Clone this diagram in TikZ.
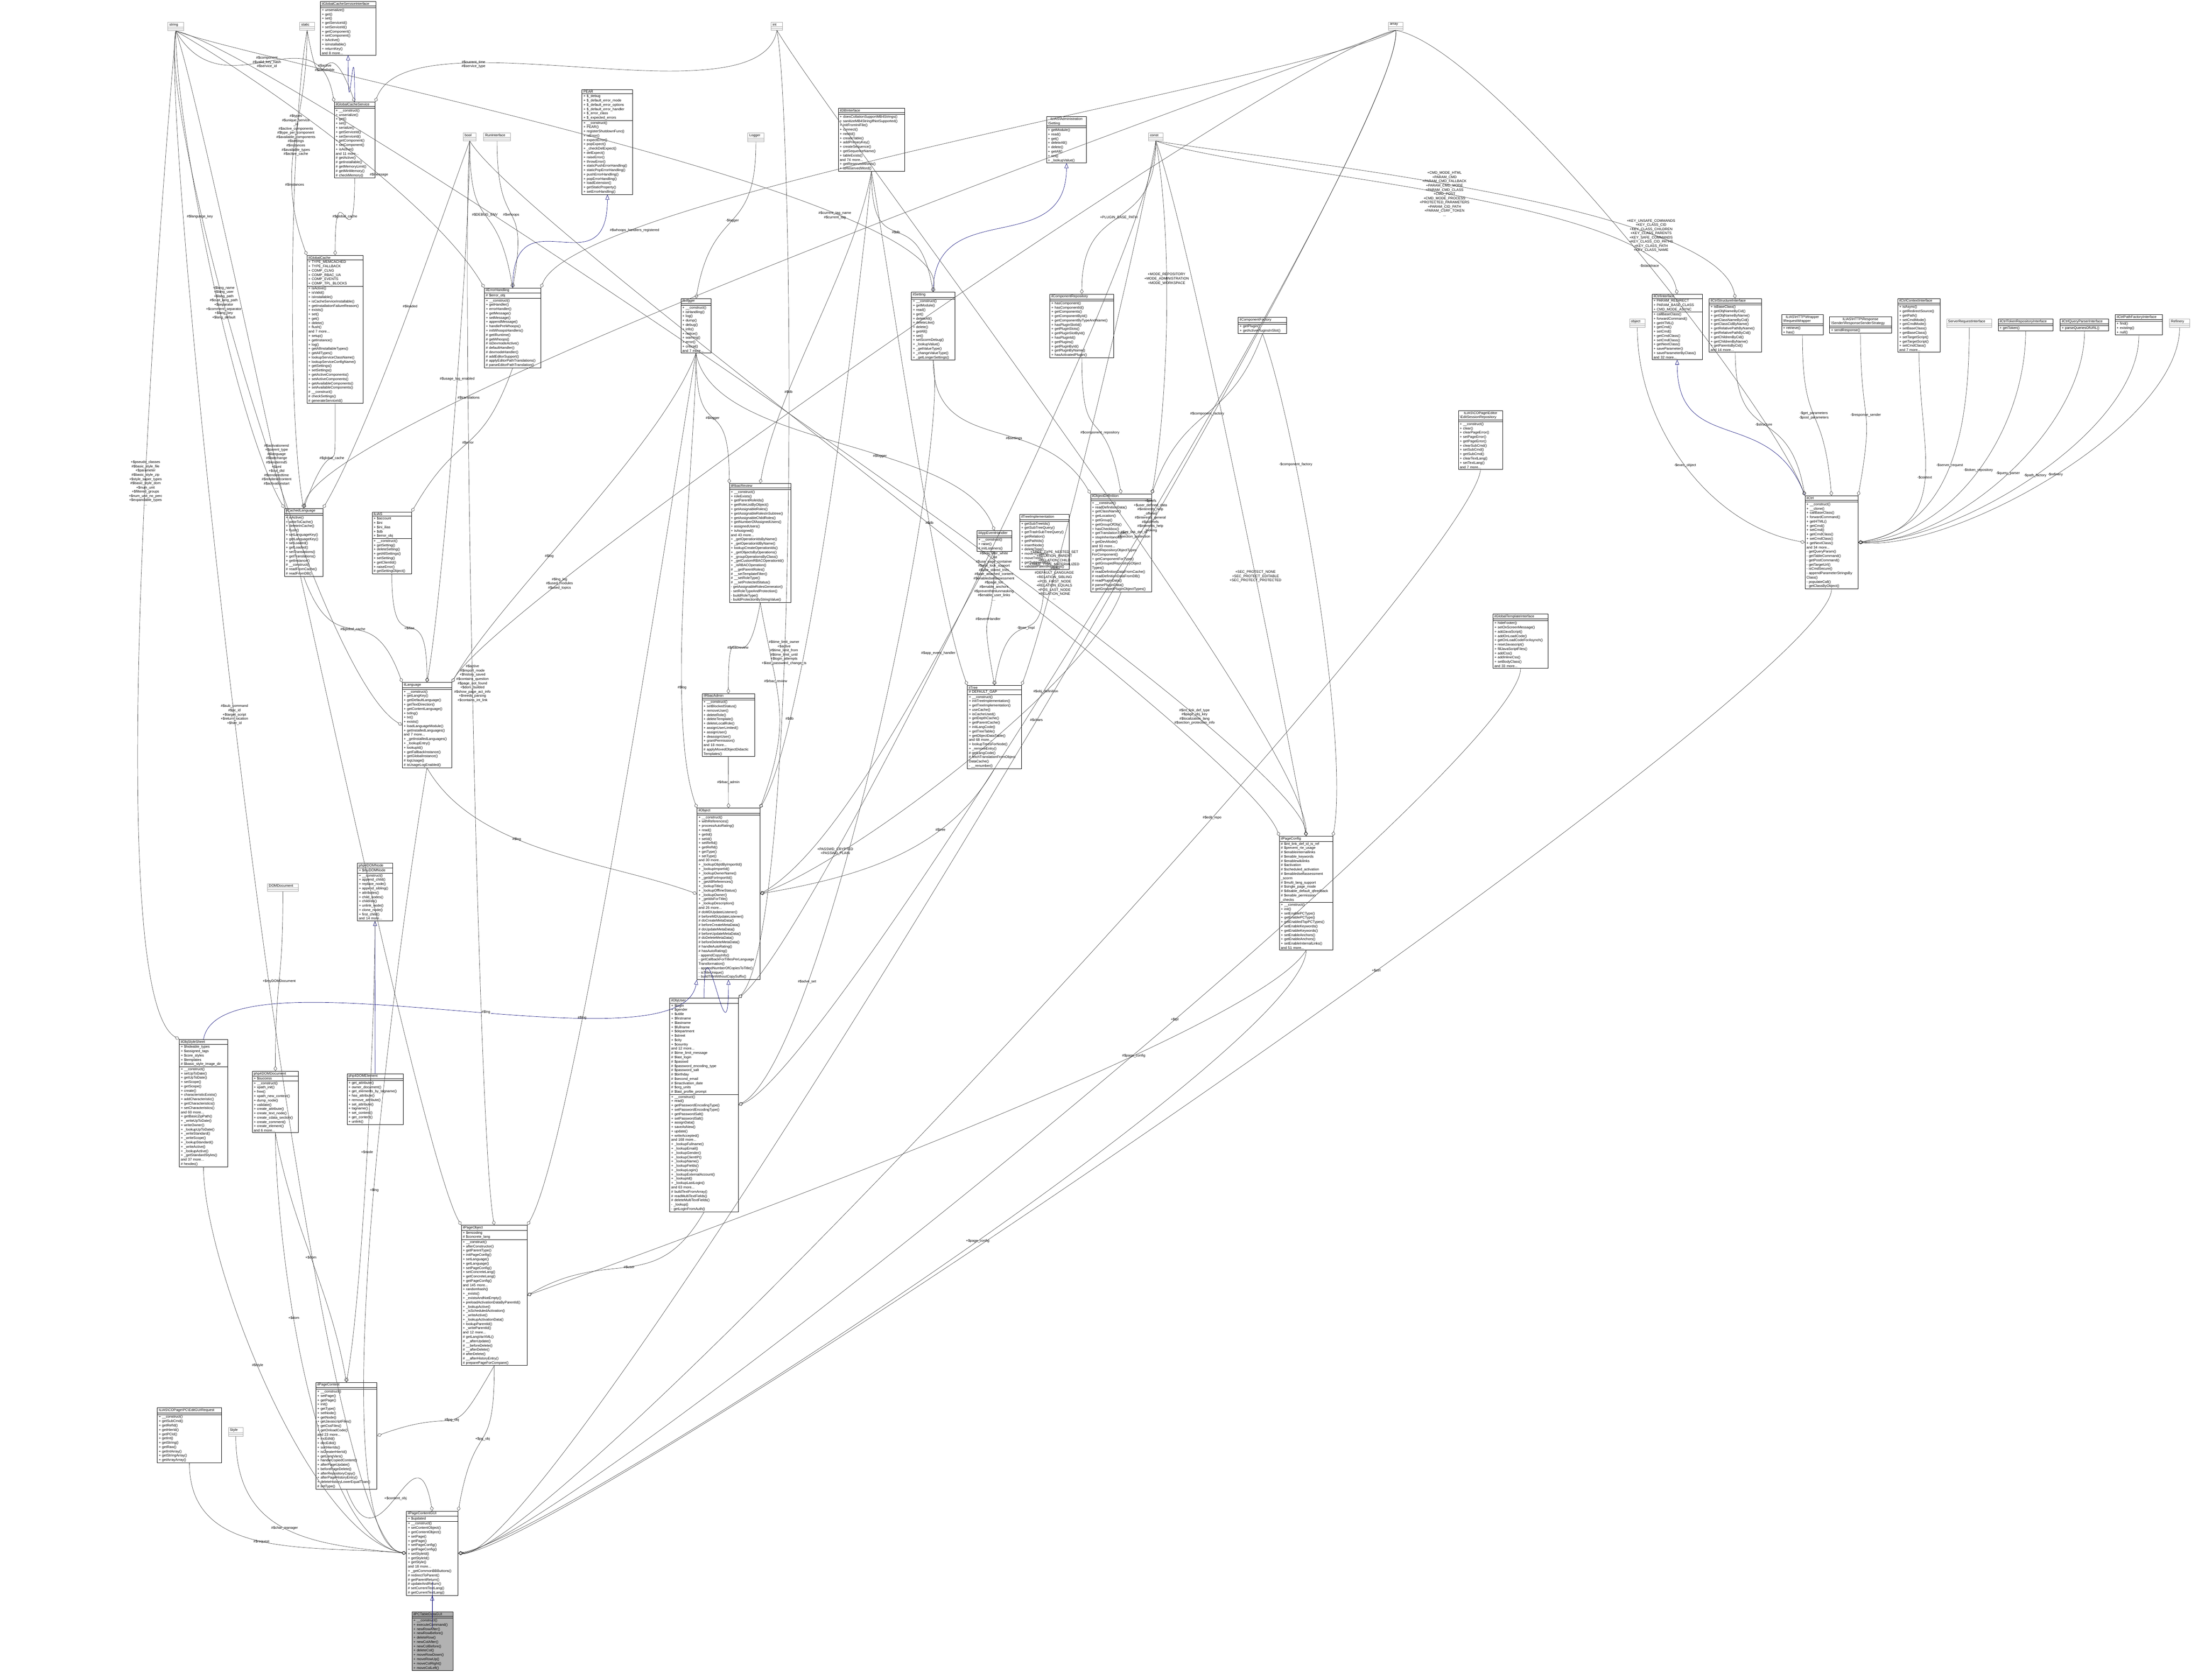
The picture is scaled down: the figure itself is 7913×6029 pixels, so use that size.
\documentclass[tikz,border=0pt]{standalone}
\usepackage{fontspec}
\setmainfont{Liberation Sans}
\usetikzlibrary{shapes.multipart,arrows.meta}
\newcommand\cls[8][cbox]{\pgfmathsetmacro\clw{#5*0.28453-3}\node[#1,text width=\clw pt] (#2) at (#3,#4) {\centering #6\nodepart{two}#7\nodepart{three}#8};}
\tikzset{
 cv/.style 2 args={to path={.. controls ([shift={(-#1:350)}]\tikztostart) and ([shift={(-#2:350)}]\tikztotarget) .. (\tikztotarget) \tikztonodes}},
 cbox/.style={rectangle split,rectangle split parts=3,draw=black,line width=0.4pt,anchor=north west,align=left,
   inner xsep=1.5pt,inner ysep=0.7pt,font=\fontsize{3.6}{4.4}\selectfont,rectangle split empty part height=3pt,fill=white},
 gbox/.style={cbox,draw=black!35},
 hbox/.style={cbox,fill=black!30},
 agg/.style={draw=black!75,line width=0.3pt,-{Diamond[open,length=5pt,width=3.5pt]}},
 inh/.style={draw=blue!45!black,line width=0.3pt,-{Triangle[open,length=5pt,width=4pt]}},
 lbl/.style={font=\fontsize{3.6}{4.3}\selectfont,align=center,inner sep=0.5pt}
}
\begin{document}
\begin{tikzpicture}[x=0.01cm,y=-0.01cm]
\useasboundingbox[fill=white] (0,0) rectangle (7913,6029);
% ---------- plain boxes
\cls[gbox]{string}{602}{79}{56}{string}{}{}
\cls[gbox]{static}{1075}{79}{53}{static}{}{}
\cls[gbox]{int}{2767}{79}{41}{int}{}{}
\cls[gbox]{array}{4982}{79}{52}{array}{}{}
\cls[gbox]{bool}{1662}{476}{46}{bool}{}{}
\cls[gbox]{runif}{1735}{476}{96}{RunInterface}{}{}
\cls[gbox]{logger}{2683}{477}{58}{Logger}{}{}
\cls[gbox]{const}{4121}{477}{52}{const}{}{}
\cls[gbox]{object}{5847}{1144}{56}{object}{}{}
\cls[gbox]{srvreq}{6985}{1144}{162}{ServerRequestInterface}{}{}
\cls[gbox]{refinery}{7785}{1144}{72}{Refinery}{}{}
\cls[gbox]{domdoc}{959}{3171}{111}{DOMDocument}{}{}
\cls[gbox]{style}{819}{5123}{53}{Style}{}{}
% ---------- classes
\cls{gcsi}{1149}{5}{199}{ilGlobalCacheServiceInterface}{}{+ unserialize()\\+ get()\\+ set()\\+ getServiceId()\\+ setServiceId()\\+ getComponent()\\+ setComponent()\\+ isActive()\\+ isInstallable()\\+ returnKey()\\and 8 more...}
\cls{gcs}{1199}{366}{146}{ilGlobalCacheService}{}{+ \_\_construct()\\+ unserialize()\\+ get()\\+ set()\\+ serialize()\\+ getServiceId()\\+ setServiceId()\\+ getComponent()\\+ setComponent()\\+ isActive()\\and 11 more...\\\# getActive()\\\# getInstallable()\\\# getMemoryLimit()\\\# getMinMemory()\\\# checkMemory()}
\cls{pear}{2088}{321}{182}{PEAR}{+ \$\_debug\\+ \$\_default\_error\_mode\\+ \$\_default\_error\_options\\+ \$\_default\_error\_handler\\+ \$\_error\_class\\+ \$\_expected\_errors}{+ \_\_construct()\\+ PEAR()\\+ registerShutdownFunc()\\+ isError()\\+ expectError()\\+ popExpect()\\+ \_checkDelExpect()\\+ delExpect()\\+ raiseError()\\+ throwError()\\+ staticPushErrorHandling()\\+ staticPopErrorHandling()\\+ pushErrorHandling()\\+ popErrorHandling()\\+ loadExtension()\\+ getStaticProperty()\\+ setErrorHandling()}
\cls{gc}{1101}{916}{202}{ilGlobalCache}{+ TYPE\_MEMCACHED\\+ TYPE\_FALLBACK\\+ COMP\_CLNG\\+ COMP\_RBAC\_UA\\+ COMP\_EVENTS\\+ COMP\_TPL\_BLOCKS}{+ isActive()\\+ isValid()\\+ isInstallable()\\+ isCacheServiceInstallable()\\+ getInstallationFailureReason()\\+ exists()\\+ set()\\+ get()\\+ delete()\\+ flush()\\and 7 more...\\+ setup()\\+ getInstance()\\+ log()\\+ getAllInstallableTypes()\\+ getAllTypes()\\+ lookupServiceClassName()\\+ lookupServiceConfigName()\\+ getSettings()\\+ setSettings()\\+ getActiveComponents()\\+ setActiveComponents()\\+ getAvailableComponents()\\+ setAvailableComponents()\\\# \_\_construct()\\\# checkSettings()\\\# generateServiceId()}
\cls{erh}{1738}{1033}{202}{ilErrorHandling}{\# \$error\_obj}{+ \_\_construct()\\+ getHandler()\\+ errorHandler()\\+ getMessage()\\+ setMessage()\\+ appendMessage()\\+ handlePreWhoops()\\+ initWhoopsHandlers()\\\# getIRuntime()\\\# getWhoops()\\\# isDevmodeActive()\\\# defaultHandler()\\\# devmodeHandler()\\\# addEditorSupport()\\\# applyEditorPathTranslations()\\\# parseEditorPathTranslation()}
\cls{illog}{2443}{1071}{108}{ilLogger}{}{+ \_\_construct()\\+ isHandling()\\+ log()\\+ dump()\\+ debug()\\+ info()\\+ notice()\\+ warning()\\+ error()\\+ critical()\\and 7 more...}
\cls{db}{3008}{388}{237}{ilDBInterface}{}{+ doesCollationSupportMB4Strings()\\+ sanitizeMB4StringIfNotSupported()\\+ initFromIniFile()\\+ connect()\\+ nextId()\\+ createTable()\\+ addPrimaryKey()\\+ createSequence()\\+ getSequenceName()\\+ tableExists()\\and 74 more...\\+ getReservedWords()\\+ isReservedWord()}
\cls{admset}{3755}{418}{143}{ILIAS\textbackslash Administration\\\textbackslash Setting}{}{+ getModule()\\+ read()\\+ get()\\+ deleteAll()\\+ delete()\\+ getAll()\\+ set()\\+ \_lookupValue()}
\cls{setting}{3270}{1048}{156}{ilSetting}{}{+ \_\_construct()\\+ getModule()\\+ read()\\+ get()\\+ deleteAll()\\+ deleteLike()\\+ delete()\\+ getAll()\\+ set()\\+ setScormDebug()\\+ \_lookupValue()\\+ \_getValueType()\\+ \_changeValueType()\\+ \_getLongerSettings()}
\cls{comprepo}{3767}{1055}{229}{ilComponentRepository}{}{+ hasComponent()\\+ hasComponentId()\\+ getComponents()\\+ getComponentById()\\+ getComponentByTypeAndName()\\+ hasPluginSlotId()\\+ getPluginSlots()\\+ getPluginSlotById()\\+ hasPluginId()\\+ getPlugins()\\+ getPluginById()\\+ getPluginByName()\\+ hasActivatedPlugin()}
\cls{compfac}{4443}{1138}{174}{ilComponentFactory}{}{+ getPlugin()\\+ getActivePluginsInSlot()}
\cls{ctrlif}{5928}{1055}{180}{ilCtrlInterface}{+ PARAM\_REDIRECT\\+ PARAM\_BASE\_CLASS\\+ CMD\_MODE\_ASYNC}{+ callBaseClass()\\+ forwardCommand()\\+ getHTML()\\+ getCmd()\\+ setCmd()\\+ getCmdClass()\\+ setCmdClass()\\+ getNextClass()\\+ saveParameter()\\+ saveParameterByClass()\\and 32 more...}
\cls{ctrlst}{6133}{1071}{187}{ilCtrlStructureInterface}{}{+ isBaseClass()\\+ getObjNameByCid()\\+ getObjNameByName()\\+ getClassNameByCid()\\+ getClassCidByName()\\+ getRelativePathByName()\\+ getRelativePathByCid()\\+ getChildrenByCid()\\+ getChildrenByName()\\+ getParentsByCid()\\and 14 more...}
\cls{reqw}{6393}{1128}{149}{ILIAS\textbackslash HTTP\textbackslash Wrapper\\\textbackslash RequestWrapper}{}{+ retrieve()\\+ has()}
\cls{resp}{6565}{1136}{222}{ILIAS\textbackslash HTTP\textbackslash Response\\\textbackslash Sender\textbackslash ResponseSenderStrategy}{}{+ sendResponse()}
\cls{ctx}{6810}{1071}{152}{ilCtrlContextInterface}{}{+ isAsync()\\+ getRedirectSource()\\+ getPath()\\+ setCmdMode()\\+ getCmdMode()\\+ setBaseClass()\\+ getBaseClass()\\+ setTargetScript()\\+ getTargetScript()\\+ setCmdClass()\\and 7 more...}
\cls{tok}{7170}{1144}{197}{ilCtrlTokenRepositoryInterface}{}{+ getToken()}
\cls{qp}{7393}{1144}{174}{ilCtrlQueryParserInterface}{}{+ parseQueriesOfURL()}
\cls{pathf}{7590}{1128}{170}{ilCtrlPathFactoryInterface}{}{+ find()\\+ existing()\\+ null()}
\cls{ctrl}{6477}{1779}{190}{ilCtrl}{}{+ \_\_construct()\\+ \_\_clone()\\+ callBaseClass()\\+ forwardCommand()\\+ getHTML()\\+ getCmd()\\+ setCmd()\\+ getCmdClass()\\+ setCmdClass()\\+ getNextClass()\\and 34 more...\\- getQueryParam()\\- getTableCommand()\\- getPostCommand()\\- getTargetUrl()\\- isCmdSecure()\\- appendParameterStringsBy\\Class()\\- populateCall()\\- getClassByObject()}
\cls{editrepo}{5233}{1473}{159}{ILIAS\textbackslash COPage\textbackslash Editor\\\textbackslash EditSessionRepository}{}{+ \_\_construct()\\+ clear()\\+ clearPageError()\\+ setPageError()\\+ getPageError()\\+ clearSubCmd()\\+ setSubCmd()\\+ getSubCmd()\\+ clearTextLang()\\+ setTextLang()\\and 7 more...}
\cls{tpl}{5357}{2203}{198}{ilGlobalTemplateInterface}{}{+ hideFooter()\\+ setOnScreenMessage()\\+ addJavaScript()\\+ addOnLoadCode()\\+ getOnLoadCodeForAsynch()\\+ resetJavascript()\\+ fillJavaScriptFiles()\\+ addCss()\\+ addInlineCss()\\+ setBodyClass()\\and 33 more...}
\cls{rbrev}{2617}{1735}{221}{ilRbacReview}{}{+ \_\_construct()\\+ roleExists()\\+ getParentRoleIds()\\+ getRoleListByObject()\\+ getAssignableRoles()\\+ getAssignableRolesInSubtree()\\+ getAssignableChildRoles()\\+ getNumberOfAssignedUsers()\\+ assignedUsers()\\+ isAssigned()\\and 43 more...\\+ \_getOperationIdsByName()\\+ \_getOperationIdByName()\\+ lookupCreateOperationIds()\\+ \_getObjectsByOperations()\\+ \_groupOperationsByClass()\\+ \_getCustomRBACOperationId()\\+ \_isRBACOperation()\\\# \_\_getParentRoles()\\\# \_\_setTemplateFilter()\\\# \_\_setRoleType()\\\# \_\_setProtectedStatus()\\- getAssignableRolesGenerator()\\- setRoleTypeAndProtection()\\- buildRoleType()\\- buildProtectionByStringValue()}
\cls{apph}{3505}{1904}{126}{ilAppEventHandler}{}{+ \_\_construct()\\+ raise()\\\# initListeners()}
\cls{timpl}{3659}{1846}{177}{ilTreeImplementation}{}{+ getSubTreeIds()\\+ getSubTreeQuery()\\+ getTrashSubTreeQuery()\\+ getRelation()\\+ getPathIds()\\+ insertNode()\\+ deleteTree()\\+ moveToTrash()\\+ moveTree()\\+ getSubtreeInfo()\\+ validateParentRelations()}
\cls{objdef}{3913}{1772}{219}{ilObjectDefinition}{}{+ \_\_construct()\\+ readDefinitionData()\\+ getClassName()\\+ getLocation()\\+ getGroup()\\+ getGroupOfObj()\\+ hasCheckbox()\\+ getTranslationType()\\+ stopInheritance()\\+ getDevMode()\\and 93 more...\\+ getRepositoryObjectTypes\\ForComponent()\\+ getComponentForType()\\+ getGroupedRepositoryObject\\Types()\\\# readDefinitionDataFromCache()\\\# readDefinitionDataFromDB()\\\# readPluginData()\\\# parsePluginData()\\\# getGroupedPluginObjectTypes()}
\cls{cl}{1020}{1824}{138}{ilCachedLanguage}{}{+ isActive()\\+ writeToCache()\\+ deleteInCache()\\+ flush()\\+ setLanguageKey()\\+ getLanguageKey()\\+ setLoaded()\\+ getLoaded()\\+ setTranslations()\\+ getTranslations()\\+ getInstance()\\\# \_\_construct()\\\# readFromCache()\\\# readFromDB()}
\cls{ilias}{1335}{1837}{141}{ILIAS}{+ \$account\\+ \$ini\\+ \$ini\_ilias\\+ \$db\\+ \$error\_obj}{+ \_\_construct()\\+ getSetting()\\+ deleteSetting()\\+ getAllSettings()\\+ setSetting()\\+ getClientId()\\+ raiseError()\\\# getSettingObject()}
\cls{lng}{1443}{2449}{177}{ilLanguage}{}{+ \_\_construct()\\+ getLangKey()\\+ getDefaultLanguage()\\+ getTextDirection()\\+ getContentLanguage()\\+ txtlng()\\+ txt()\\+ exists()\\+ loadLanguageModule()\\+ getInstalledLanguages()\\and 7 more...\\+ \_getInstalledLanguages()\\+ \_lookupEntry()\\+ lookupId()\\+ getFallbackInstance()\\+ getGlobalInstance()\\\# logUsage()\\\# isUsageLogEnabled()}
\cls{rbadm}{2519}{2489}{188}{ilRbacAdmin}{}{+ \_\_construct()\\+ setBlockedStatus()\\+ removeUser()\\+ deleteRole()\\+ deleteTemplate()\\+ deleteLocalRole()\\+ assignUserLimited()\\+ assignUser()\\+ deassignUser()\\+ grantPermission()\\and 18 more...\\\# applyMovedObjectDidactic\\Templates()}
\cls{tree}{3471}{2459}{194}{ilTree}{\# DEFAULT\_GAP}{+ \_\_construct()\\+ initTreeImplementation()\\+ getTreeImplementation()\\+ useCache()\\+ isCacheUsed()\\+ getDepthCache()\\+ getParentCache()\\+ initLangCode()\\+ getTreeTable()\\+ getObjectDataTable()\\and 68 more...\\+ lookupTreesForNode()\\+ \_removeEntry()\\\# getLangCode()\\\# fetchTranslationFromObject\\DataCache()\\- \_\_renumber()}
\cls{obj}{2501}{2900}{225}{ilObject}{}{+ \_\_construct()\\+ withReferences()\\+ processAutoRating()\\+ read()\\+ getId()\\+ setId()\\+ setRefId()\\+ getRefId()\\+ getType()\\+ setType()\\and 30 more...\\+ \_lookupObjIdByImportId()\\+ \_lookupImportId()\\+ \_lookupOwnerName()\\+ \_getIdForImportId()\\+ \_getAllReferences()\\+ \_lookupTitle()\\+ \_lookupOfflineStatus()\\+ \_lookupOwner()\\+ \_getIdsForTitle()\\+ \_lookupDescription()\\and 26 more...\\\# doMDUpdateListener()\\\# beforeMDUpdateListener()\\\# doCreateMetaData()\\\# beforeCreateMetaData()\\\# doUpdateMetaData()\\\# beforeUpdateMetaData()\\\# doDeleteMetaData()\\\# beforeDeleteMetaData()\\\# handleAutoRating()\\\# hasAutoRating()\\- appendCopyInfo()\\- getCallbackForTitlesPerLanguage\\Transformation()\\- appendNumberOfCopiesToTitle()\\- isTitleUnique()\\- buildTitleWithoutCopySuffix()}
\cls{user}{2403}{3582}{246}{ilObjUser}{+ \$login\\+ \$gender\\+ \$utitle\\+ \$firstname\\+ \$lastname\\+ \$fullname\\+ \$department\\+ \$street\\+ \$city\\+ \$country\\and 12 more...\\\# \$time\_limit\_message\\\# \$last\_login\\\# \$passwd\\\# \$password\_encoding\_type\\\# \$password\_salt\\\# \$birthday\\\# \$second\_email\\\# \$inactivation\_date\\\# \$org\_units\\\# \$last\_profile\_prompt}{+ \_\_construct()\\+ read()\\+ getPasswordEncodingType()\\+ setPasswordEncodingType()\\+ getPasswordSalt()\\+ setPasswordSalt()\\+ assignData()\\+ saveAsNew()\\+ update()\\+ writeAccepted()\\and 168 more...\\+ \_lookupFullname()\\+ \_lookupEmail()\\+ \_lookupGender()\\+ \_lookupClientIP()\\+ \_lookupName()\\+ \_lookupFields()\\+ \_lookupLogin()\\+ \_lookupExternalAccount()\\+ \_lookupId()\\+ \_lookupLastLogin()\\and 63 more...\\\# buildTextFromArray()\\\# readMultiTextFields()\\\# deleteMultiTextFields()\\- \_lookup()\\- getLoginFromAuth()}
\cls{pc}{4591}{3001}{191}{ilPageConfig}{\# \$int\_link\_def\_id\_is\_ref\\\# \$prevent\_rte\_usage\\\# \$enableinternallinks\\\# \$enable\_keywords\\\# \$enablewikilinks\\\# \$activation\\\# \$scheduled\_activation\\\# \$enabledselfassessment\\\_scorm\\\# \$multi\_lang\_support\\\# \$single\_page\_mode\\\# \$disable\_default\_qfeedback\\\# \$enable\_permission\\\_checks}{+ \_\_construct()\\+ init()\\+ setEnablePCType()\\+ getEnablePCType()\\+ getEnabledTopPCTypes()\\+ setEnableKeywords()\\+ getEnableKeywords()\\+ setEnableAnchors()\\+ getEnableAnchors()\\+ setEnableInternalLinks()\\and 51 more...}
\cls{pnode}{1282}{3097}{126}{php4DOMNode}{+ \$myDOMNode}{+ \_\_construct()\\+ append\_child()\\+ replace\_node()\\+ append\_sibling()\\+ attributes()\\+ child\_nodes()\\+ children()\\+ unlink\_node()\\+ clone\_node()\\+ first\_child()\\and 14 more...}
\cls{oss}{643}{3730}{173}{ilObjStyleSheet}{+ \$hideable\_types\\+ \$assigned\_tags\\+ \$core\_styles\\+ \$templates\\\# \$basic\_style\_image\_dir}{+ \_\_construct()\\+ setUpToDate()\\+ getUpToDate()\\+ setScope()\\+ getScope()\\+ create()\\+ characteristicExists()\\+ addCharacteristic()\\+ getCharacteristics()\\+ setCharacteristics()\\and 60 more...\\+ getBasicZipPath()\\+ \_writeUpToDate()\\+ writeOwner()\\+ \_lookupUpToDate()\\+ \_writeStandard()\\+ \_writeScope()\\+ \_lookupStandard()\\+ \_writeActive()\\+ \_lookupActive()\\+ \_getStandardStyles()\\and 37 more...\\\# hexdec()}
\cls{pdoc}{905}{3844}{165}{php4DOMDocument}{+ \$success}{+ \_\_construct()\\+ xpath\_init()\\+ free()\\+ xpath\_new\_context()\\+ dump\_node()\\+ validate()\\+ create\_attribute()\\+ create\_text\_node()\\+ create\_cdata\_section()\\+ create\_comment()\\+ create\_element()\\and 6 more...}
\cls{pelem}{1245}{3853}{201}{php4DOMElement}{}{+ get\_attribute()\\+ owner\_document()\\+ get\_elements\_by\_tagname()\\+ has\_attribute()\\+ remove\_attribute()\\+ set\_attribute()\\+ tagname()\\+ set\_content()\\+ get\_content()\\+ unlink()}
\cls{pgobj}{1655}{4397}{236}{ilPageObject}{+ \$encoding\\\# \$concrete\_lang}{+ \_\_construct()\\+ afterConstructor()\\+ getParentType()\\+ initPageConfig()\\+ setLanguage()\\+ getLanguage()\\+ setPageConfig()\\+ setConcreteLang()\\+ getConcreteLang()\\+ getPageConfig()\\and 145 more...\\+ randomhash()\\+ \_exists()\\+ \_existsAndNotEmpty()\\+ preloadActivationDataByParentId()\\+ \_lookupActive()\\+ \_isScheduledActivation()\\+ \_writeActive()\\+ \_lookupActivationData()\\+ lookupParentId()\\+ \_writeParentId()\\and 12 more...\\\# getLangVarXML()\\\# \_\_afterUpdate()\\\# \_\_beforeDelete()\\\# \_\_afterDelete()\\\# afterDelete()\\\# \_\_afterHistoryEntry()\\\# preparePageForCompare()}
\cls{pgc}{1133}{4961}{219}{ilPageContent}{}{+ \_\_construct()\\+ setPage()\\+ getPage()\\+ init()\\+ getType()\\+ setNode()\\+ getNode()\\+ getJavascriptFiles()\\+ getCssFiles()\\+ getOnloadCode()\\and 23 more...\\+ incEdId()\\+ decEdId()\\+ sortHierIds()\\+ isGreaterHierId()\\+ getLangVars()\\+ handleCopiedContent()\\+ afterPageUpdate()\\+ beforePageDelete()\\+ afterRepositoryCopy()\\+ afterPageHistoryEntry()\\+ deleteHistoryLowerEqualThan()\\\# setType()}
\cls{req}{564}{5052}{230}{ILIAS\textbackslash COPage\textbackslash PC\textbackslash EditGUIRequest}{}{+ \_\_construct()\\+ getSubCmd()\\+ getRefId()\\+ getHierId()\\+ getPCId()\\+ getInt()\\+ getString()\\+ getRaw()\\+ getIntArray()\\+ getStringArray()\\+ getArrayArray()}
\cls{pgcgui}{1458}{5423}{185}{ilPageContentGUI}{+ \$updated}{+ \_\_construct()\\+ setContentObject()\\+ getContentObject()\\+ setPage()\\+ getPage()\\+ setPageConfig()\\+ getPageConfig()\\+ setStyleId()\\+ getStyleId()\\+ getStyle()\\and 18 more...\\+ \_getCommonBBButtons()\\\# redirectToParent()\\\# getParentReturn()\\\# updateAndReturn()\\\# setCurrentTextLang()\\\# getCurrentTextLang()}
\cls[hbox]{pctd}{1478}{5785}{147}{ilPCTableDataGUI}{}{+ \_\_construct()\\+ executeCommand()\\+ newRowAfter()\\+ newRowBefore()\\+ deleteRow()\\+ newColAfter()\\+ newColBefore()\\+ deleteCol()\\+ moveRowDown()\\+ moveRowUp()\\+ moveColRight()\\+ moveColLeft()}
% ---------- inheritance
\draw[inh] (gcs.north) to[cv={90}{-90}] (gcsi.south);
\draw[inh] (erh.north) to[cv={90}{-90}] (pear.south);
\draw[inh] (setting.north) to[cv={90}{-90}] (admset.south);
\draw[inh] (ctrl.north west) to[cv={110}{-90}] (ctrlif.south);
\draw[inh] (user.north) to[cv={90}{-90}] (obj.south);
\draw[inh] (oss.north) to[cv={80}{-100}] node[lbl,pos=0.55,fill=white]{\#\$lng} (obj.south west);
\draw[inh] (pelem.north) to[cv={90}{-90}] (pnode.south);
\draw[inh] (pctd.north) to[cv={90}{-90}] (pgcgui.south);
% ---------- aggregations
\draw[agg] (string.south) to[cv={-60}{100}] node[lbl]{\#\$component\\\#\$valid\_key\_hash\\\#\$service\_id} (gcs.north west);
\draw[agg] (static.south) to[cv={-80}{110}] node[lbl]{\#\$active\\\#\$installable} (gcs.north);
\draw[agg] (int.south) to[cv={-100}{70}] node[lbl,pos=0.7]{\#\$current\_time\\\#\$service\_type} (gcs.north east);
\draw[agg] (static.south) to[cv={-90}{110}] node[lbl,pos=0.45]{\#\$types\\\#\$unique\_service\\\_id\\\#\$active\_components\\\#\$type\_per\_component\\\#\$available\_components\\\#\$settings\\\#\$instances\\\#\$available\_types\\\#\$active\_cache} (gc.north west);
\draw[agg] (gcs.south) to[cv={-90}{90}] node[lbl]{\#\$global\_cache} (gc.north);
\draw[agg] (string.south) to[cv={-30}{120}] node[lbl,pos=0.6]{\#\$message} (erh.north west);
\draw[agg] (bool.south) to[cv={-90}{100}] node[lbl]{\#\$DEBUG\_ENV} (erh.north);
\draw[agg] (runif.south) to[cv={-90}{80}] node[lbl]{\#\$whoops} (erh.north);
\draw[agg] (array.south) to[cv={-150}{70}] node[lbl,pos=0.8]{\#\$whoops\_handlers\_registered} (erh.north east);
\draw[agg] (logger.south) to[cv={-90}{80}] node[lbl]{-\$logger} (illog.north);
\draw[agg] (string.south) to[cv={-90}{120}] node[lbl,pos=0.4]{\#\$language\_key} (cl.north west);
\draw[agg] (gc.south) to[cv={-90}{70}] node[lbl]{\#\$global\_cache} (cl.north);
\draw[agg] (bool.south) to[cv={-110}{60}] node[lbl,pos=0.45]{\#\$loaded} (cl.north east);
\draw[agg] (array.south) to[cv={-160}{80}] node[lbl,pos=0.75]{\#\$translations} (cl.north);
\draw[agg] (static.south) to[cv={-100}{100}] node[lbl,pos=0.35]{\#\$instances} (cl.north);
\draw[agg] (erh.south) to[cv={-110}{60}] node[lbl]{\#\$error} (ilias.north east);
\draw[agg] (string.south) to[cv={-100}{150}] node[lbl,pos=0.4]{+\$lang\_name\\+\$lang\_user\\+\$lang\_path\\\#\$cust\_lang\_path\\+\$separator\\+\$comment\_separator\\+\$lang\_key\\+\$lang\_default} (lng.west);
\draw[agg] (array.south) to[cv={-170}{60}] node[lbl,pos=0.8]{\#\$lng\_log\\\#\$used\_modules\\\#\$used\_topics} (lng.north east);
\draw[agg] (cl.south) to[cv={-70}{110}] node[lbl]{\#\$global\_cache} (lng.north west);
\draw[agg] (ilias.south) to[cv={-90}{90}] node[lbl]{+\$ilias} (lng.north);
\draw[agg] (illog.south) to[cv={-110}{60}] node[lbl,pos=0.6]{\#\$log} (lng.north east);
\draw[agg] (bool.south) to[cv={-90}{80}] node[lbl,pos=0.45]{\#\$usage\_log\_enabled} (lng.north);
\draw[agg] (db.south) to[cv={-90}{100}] node[lbl]{\#\$db} (setting.north);
\draw[agg] (string.south) to[cv={-20}{80}] node[lbl,pos=0.75]{\#\$current\_tag\_name\\\#\$current\_tag} (setting.north);
\draw[agg] (const.south) to[cv={-90}{90}] node[lbl]{+PLUGIN\_BASE\_PATH} (comprepo.north);
\draw[agg] (setting.south) to[cv={-90}{120}] node[lbl,pos=0.6]{\#\$settings} (objdef.north west);
\draw[agg] (comprepo.south) to[cv={-90}{100}] node[lbl,pos=0.6]{\#\$component\_repository} (objdef.north);
\draw[agg] (compfac.south) to[cv={-110}{70}] node[lbl]{\#\$component\_factory} (objdef.north east);
\draw[agg] (const.south) to[cv={-80}{80}] node[lbl,pos=0.4]{+MODE\_REPOSITORY\\+MODE\_ADMINISTRATION\\+MODE\_WORKSPACE} (objdef.north east);
\draw[agg] (illog.south) to[cv={-80}{110}] node[lbl,pos=0.6]{\#\$logger} (apph.north);
\draw[agg] (illog.south) to[cv={-90}{90}] node[lbl]{\#\$logger} (rbrev.north west);
\draw[agg] (db.south) to[cv={-100}{80}] node[lbl,pos=0.7]{\#\$db} (rbrev.north);
\draw[agg] (const.south) to[cv={-100}{70}] node[lbl,pos=0.75]{+TREE\_TYPE\_NESTED\_SET\\+RELATION\_PARENT\\+RELATION\_CHILD\\+TREE\_TYPE\_MATERIALIZED\\\_PATH\\\#DEFAULT\_LANGUAGE\\+RELATION\_SIBLING\\+POS\_FIRST\_NODE\\+RELATION\_EQUALS\\+POS\_LAST\_NODE\\+RELATION\_NONE\\...} (tree.north east);
\draw[agg] (apph.south) to[cv={-90}{100}] node[lbl]{\#\$eventHandler} (tree.north);
\draw[agg] (timpl.south) to[cv={-90}{80}] node[lbl]{-\$tree\_impl} (tree.north);
\draw[agg] (db.south) to[cv={-80}{110}] node[lbl,pos=0.65]{\#\$db} (tree.north west);
\draw[agg] (rbrev.south) to[cv={-100}{90}] node[lbl]{\#\$rbacreview} (rbadm.north);
\draw[agg] (rbrev.south) to[cv={-80}{70}] node[lbl,pos=0.35]{\#\$rbac\_review} (obj.north east);
\draw[agg] (rbadm.south) to[cv={-90}{90}] node[lbl]{\#\$rbac\_admin} (obj.north);
\draw[agg] (apph.south) to[cv={-120}{30}] node[lbl,pos=0.3]{\#\$app\_event\_handler} (obj.east);
\draw[agg] (objdef.south) to[cv={-110}{20}] node[lbl,pos=0.3]{\#\$obj\_definition} (obj.east);
\draw[agg] (tree.south) to[cv={-120}{10}] node[lbl,pos=0.3]{\#\$tree} (obj.east);
\draw[agg] (db.south) to[cv={-95}{60}] node[lbl,pos=0.8]{\#\$db} (obj.north east);
\draw[agg] (lng.south) to[cv={-60}{160}] node[lbl,pos=0.4]{\#\$lng} (obj.west);
\draw[agg] (illog.south) to[cv={-90}{110}] node[lbl,pos=0.7]{\#\$log} (obj.north west);
\draw[agg] (const.south) to[cv={-90}{40}] node[lbl,pos=0.75]{+PASSWD\_CRYPTED\\+PASSWD\_PLAIN} (user.north east);
\draw[agg] (setting.south) to[cv={-80}{30}] node[lbl,pos=0.75]{\#\$adve\_set} (user.east);
\draw[agg] (array.south) to[cv={-85}{20}] node[lbl,pos=0.45]{+\$prefs\\+\$user\_defined\_data\\\#\$interests\_help\\\_offered\\\#\$interests\_general\\\#\$oldPrefs\\\#\$interests\_help\\\_looking} (user.east);
\draw[agg] (int.south) to[cv={-80}{50}] node[lbl,pos=0.6]{\#\$time\_limit\_owner\\+\$active\\\#\$time\_limit\_from\\\#\$time\_limit\_until\\+\$login\_attempts\\+\$last\_password\_change\_ts} (user.north east);
\draw[agg] (bool.south) to[cv={-60}{110}] node[lbl,pos=0.6]{\#\$link\_filter\_white\\\_list\\\#\$use\_page\_container\\\#\$edit\_lock\_support\\\#\$use\_stored\_tries\\\#\$use\_attached\_content\\\#\$enabledselfassessment\\\#\$page\_toc\\\#\$enable\_anchors\\\#\$preventhtmlunmasking\\\#\$enable\_user\_links\\...} (pc.north west);
\draw[agg] (const.south) to[cv={-70}{100}] node[lbl,pos=0.6]{+SEC\_PROTECT\_NONE\\+SEC\_PROTECT\_EDITABLE\\+SEC\_PROTECT\_PROTECTED} (pc.north);
\draw[agg] (string.south) to[cv={-10}{95}] node[lbl,pos=0.8]{\#\$int\_link\_def\_type\\\#\$page\_obj\_key\\\#\$localization\_lang\\\#\$section\_protection\_info} (pc.north);
\draw[agg] (int.south) to[cv={-60}{90}] node[lbl,pos=0.6]{\#\$int\_link\_def\_id\\\#\$section\_protection} (pc.north);
\draw[agg] (compfac.south) to[cv={-70}{80}] node[lbl,pos=0.3]{-\$component\_factory} (pc.north east);
\draw[agg] (ctrlst.south) to[cv={-90}{100}] node[lbl]{-\$structure} (ctrl.north west);
\draw[agg] (object.south) to[cv={-90}{170}] node[lbl]{-\$exec\_object} (ctrl.west);
\draw[agg] (reqw.south) to[cv={-90}{95}] node[lbl]{-\$get\_parameters\\-\$post\_parameters} (ctrl.north);
\draw[agg] (resp.south) to[cv={-90}{80}] node[lbl]{-\$response\_sender} (ctrl.north east);
\draw[agg] (ctx.south) to[cv={-90}{10}] node[lbl]{-\$context} (ctrl.east);
\draw[agg] (srvreq.south) to[cv={-90}{10}] node[lbl]{-\$server\_request} (ctrl.east);
\draw[agg] (tok.south) to[cv={-90}{5}] node[lbl]{-\$token\_repository} (ctrl.east);
\draw[agg] (qp.south) to[cv={-90}{0}] node[lbl]{-\$query\_parser} (ctrl.east);
\draw[agg] (pathf.south) to[cv={-90}{0}] node[lbl]{-\$path\_factory} (ctrl.east);
\draw[agg] (refinery.south) to[cv={-90}{-5}] node[lbl]{-\$refinery} (ctrl.east);
\draw[agg] (const.south) to[cv={-20}{100}] node[lbl,pos=0.5]{+CMD\_MODE\_HTML\\+PARAM\_CMD\\+PARAM\_CMD\_FALLBACK\\+PARAM\_CMD\_MODE\\+PARAM\_CMD\_CLASS\\+CMD\_POST\\+CMD\_MODE\_PROCESS\\+PROTECTED\_PARAMETERS\\+PARAM\_CID\_PATH\\+PARAM\_CSRF\_TOKEN\\...} (ctrlif.north);
\draw[agg] (const.south) to[cv={-10}{100}] node[lbl,pos=0.75]{+KEY\_UNSAFE\_COMMANDS\\+KEY\_CLASS\_CID\\+KEY\_CLASS\_CHILDREN\\+KEY\_CLASS\_PARENTS\\+KEY\_SAFE\_COMMANDS\\+KEY\_CLASS\_CID\_PATHS\\+KEY\_CLASS\_PATH\\+KEY\_CLASS\_NAME} (ctrlst.north);
\draw[agg] (array.south) to[cv={-10}{110}] node[lbl,pos=0.55]{-\$stacktrace} (ctrl.north west);
\draw[agg] (pc.south) to[cv={-90}{10}] node[lbl,pos=0.45]{+\$page\_config} (pgcgui.east);
\draw[agg] (pc.south) to[cv={-120}{20}] node[lbl,pos=0.3]{\#\$page\_config} (pgobj.east);
\draw[agg] (ctrl.south) to[cv={-90}{0}] node[lbl,pos=0.4]{+\$ctrl} (pgcgui.east);
\draw[agg] (tpl.south) to[cv={-90}{5}] node[lbl,pos=0.4]{+\$tpl} (pgcgui.east);
\draw[agg] (editrepo.south) to[cv={-95}{0}] node[lbl,pos=0.35]{\#\$edit\_repo} (pgcgui.east);
\draw[agg] (array.south) to[cv={-80}{-5}] node[lbl,pos=0.45]{\#\$chars} (pgcgui.east);
\draw[agg] (user.south) to[cv={-120}{30}] node[lbl]{\#\$user} (pgobj.east);
\draw[agg] (pgobj.south) to[cv={-120}{20}] node[lbl]{\#\$pg\_obj} (pgc.east);
\draw[agg] (pgobj.south) to[cv={-90}{80}] node[lbl]{+\$pg\_obj} (pgcgui.north east);
\draw[agg] (pgc.south) to[cv={-70}{100}] node[lbl]{+\$content\_obj} (pgcgui.north);
\draw[agg] (req.south) to[cv={-90}{175}] node[lbl]{\#\$request} (pgcgui.west);
\draw[agg] (style.south) to[cv={-90}{175}] node[lbl]{\#\$char\_manager} (pgcgui.west);
\draw[agg] (oss.south) to[cv={-90}{170}] node[lbl,pos=0.45]{\#\$style} (pgcgui.west);
\draw[agg] (pdoc.south) to[cv={-90}{170}] node[lbl,pos=0.4]{+\$dom} (pgcgui.west);
\draw[agg] (lng.south) to[cv={-100}{170}] node[lbl,pos=0.5]{+\$lng} (pgcgui.west);
\draw[agg] (pnode.south) to[cv={-90}{80}] node[lbl]{+\$node} (pgc.north);
\draw[agg] (pdoc.south) to[cv={-80}{100}] node[lbl]{+\$dom} (pgc.north);
\draw[agg] (domdoc.south) to[cv={-90}{90}] node[lbl]{+\$myDOMDocument} (pdoc.north);
\draw[agg] (string.south) to[cv={-100}{175}] node[lbl,pos=0.45]{\#\$sub\_command\\\#\$pc\_id\\+\$target\_script\\+\$return\_location\\+\$hier\_id} (pgcgui.west);
\draw[agg] (string.south) to[cv={-70}{120}] node[lbl,pos=0.4]{\#\$activationend\\+\$parent\_type\\\#\$language\\\#\$lastchange\\\#\$rendermd5\\+\$xml\\+\$cur\_dtd\\\#\$renderedtime\\\#\$renderedcontent\\\#\$activationstart\\...} (pgobj.north west);
\draw[agg] (bool.south) to[cv={-95}{100}] node[lbl,pos=0.5]{\#\$active\\\#\$import\_mode\\+\$history\_saved\\\#\$contains\_question\\\#\$page\_not\_found\\+\$dom\_builded\\\#\$show\_page\_act\_info\\+\$needs\_parsing\\+\$contains\_int\_link} (pgobj.north);
\draw[agg] (string.south) to[cv={-95}{150}] node[lbl,pos=0.45]{+\$pseudo\_classes\\\#\$basic\_style\_file\\+\$parameter\\\#\$basic\_style\_zip\\+\$style\_super\_types\\\#\$basic\_style\_dom\\+\$num\_unit\\+\$filtered\_groups\\+\$num\_unit\_no\_perc\\+\$expandable\_types\\...} (oss.north west);
\draw[agg] (illog.south) to[cv={-100}{60}] node[lbl,pos=0.7]{\#\$log} (pgobj.north east);
\end{tikzpicture}
\end{document}
